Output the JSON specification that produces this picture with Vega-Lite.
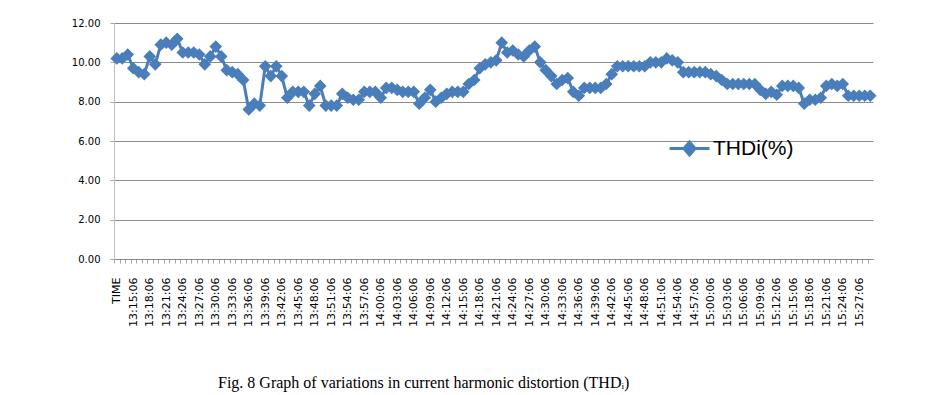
{
  "$schema": "https://vega.github.io/schema/vega-lite/v6.json",
  "width": 759,
  "height": 236,
  "autosize": {"type": "none"},
  "padding": {"left": 114, "top": 23, "right": 56, "bottom": 136},
  "background": "white",
  "title": {
    "text": "Fig. 8 Graph of variations in current harmonic distortion (THDᵢ)",
    "orient": "bottom",
    "anchor": "start",
    "frame": "group",
    "dx": 104,
    "offset": 49,
    "font": "Liberation Serif",
    "fontSize": 16,
    "fontWeight": "normal",
    "color": "black"
  },
  "config": {
    "view": {"stroke": null},
    "axis": {"labelColor": "black"}
  },
  "data": {
    "values": [
      {"t": "TIME", "v": 10.2},
      {"t": "13:13:06", "v": 10.2},
      {"t": "13:14:06", "v": 10.4},
      {"t": "13:15:06", "v": 9.7},
      {"t": "13:16:06", "v": 9.5},
      {"t": "13:17:06", "v": 9.4},
      {"t": "13:18:06", "v": 10.3},
      {"t": "13:19:06", "v": 9.9},
      {"t": "13:20:06", "v": 10.9},
      {"t": "13:21:06", "v": 11.0},
      {"t": "13:22:06", "v": 10.9},
      {"t": "13:23:06", "v": 11.2},
      {"t": "13:24:06", "v": 10.5},
      {"t": "13:25:06", "v": 10.5},
      {"t": "13:26:06", "v": 10.5},
      {"t": "13:27:06", "v": 10.4},
      {"t": "13:28:06", "v": 9.9},
      {"t": "13:29:06", "v": 10.3},
      {"t": "13:30:06", "v": 10.8},
      {"t": "13:31:06", "v": 10.3},
      {"t": "13:32:06", "v": 9.6},
      {"t": "13:33:06", "v": 9.5},
      {"t": "13:34:06", "v": 9.4},
      {"t": "13:35:06", "v": 9.1},
      {"t": "13:36:06", "v": 7.6},
      {"t": "13:37:06", "v": 7.9},
      {"t": "13:38:06", "v": 7.8},
      {"t": "13:39:06", "v": 9.8},
      {"t": "13:40:06", "v": 9.3},
      {"t": "13:41:06", "v": 9.8},
      {"t": "13:42:06", "v": 9.3},
      {"t": "13:43:06", "v": 8.2},
      {"t": "13:44:06", "v": 8.5},
      {"t": "13:45:06", "v": 8.5},
      {"t": "13:46:06", "v": 8.5},
      {"t": "13:47:06", "v": 7.8},
      {"t": "13:48:06", "v": 8.4},
      {"t": "13:49:06", "v": 8.8},
      {"t": "13:50:06", "v": 7.8},
      {"t": "13:51:06", "v": 7.8},
      {"t": "13:52:06", "v": 7.8},
      {"t": "13:53:06", "v": 8.4},
      {"t": "13:54:06", "v": 8.2},
      {"t": "13:55:06", "v": 8.1},
      {"t": "13:56:06", "v": 8.1},
      {"t": "13:57:06", "v": 8.5},
      {"t": "13:58:06", "v": 8.5},
      {"t": "13:59:06", "v": 8.5},
      {"t": "14:00:06", "v": 8.2},
      {"t": "14:01:06", "v": 8.7},
      {"t": "14:02:06", "v": 8.7},
      {"t": "14:03:06", "v": 8.6},
      {"t": "14:04:06", "v": 8.5},
      {"t": "14:05:06", "v": 8.5},
      {"t": "14:06:06", "v": 8.5},
      {"t": "14:07:06", "v": 7.9},
      {"t": "14:08:06", "v": 8.2},
      {"t": "14:09:06", "v": 8.6},
      {"t": "14:10:06", "v": 8.0},
      {"t": "14:11:06", "v": 8.2},
      {"t": "14:12:06", "v": 8.4},
      {"t": "14:13:06", "v": 8.5},
      {"t": "14:14:06", "v": 8.5},
      {"t": "14:15:06", "v": 8.5},
      {"t": "14:16:06", "v": 8.9},
      {"t": "14:17:06", "v": 9.1},
      {"t": "14:18:06", "v": 9.7},
      {"t": "14:19:06", "v": 9.9},
      {"t": "14:20:06", "v": 10.0},
      {"t": "14:21:06", "v": 10.1},
      {"t": "14:22:06", "v": 11.0},
      {"t": "14:23:06", "v": 10.5},
      {"t": "14:24:06", "v": 10.6},
      {"t": "14:25:06", "v": 10.4},
      {"t": "14:26:06", "v": 10.3},
      {"t": "14:27:06", "v": 10.6},
      {"t": "14:28:06", "v": 10.8},
      {"t": "14:29:06", "v": 10.0},
      {"t": "14:30:06", "v": 9.6},
      {"t": "14:31:06", "v": 9.3},
      {"t": "14:32:06", "v": 8.9},
      {"t": "14:33:06", "v": 9.1},
      {"t": "14:34:06", "v": 9.2},
      {"t": "14:35:06", "v": 8.5},
      {"t": "14:36:06", "v": 8.3},
      {"t": "14:37:06", "v": 8.7},
      {"t": "14:38:06", "v": 8.7},
      {"t": "14:39:06", "v": 8.7},
      {"t": "14:40:06", "v": 8.7},
      {"t": "14:41:06", "v": 8.9},
      {"t": "14:42:06", "v": 9.4},
      {"t": "14:43:06", "v": 9.8},
      {"t": "14:44:06", "v": 9.8},
      {"t": "14:45:06", "v": 9.8},
      {"t": "14:46:06", "v": 9.8},
      {"t": "14:47:06", "v": 9.8},
      {"t": "14:48:06", "v": 9.8},
      {"t": "14:49:06", "v": 10.0},
      {"t": "14:50:06", "v": 10.0},
      {"t": "14:51:06", "v": 10.0},
      {"t": "14:52:06", "v": 10.2},
      {"t": "14:53:06", "v": 10.1},
      {"t": "14:54:06", "v": 10.0},
      {"t": "14:55:06", "v": 9.5},
      {"t": "14:56:06", "v": 9.5},
      {"t": "14:57:06", "v": 9.5},
      {"t": "14:58:06", "v": 9.5},
      {"t": "14:59:06", "v": 9.5},
      {"t": "15:00:06", "v": 9.4},
      {"t": "15:01:06", "v": 9.3},
      {"t": "15:02:06", "v": 9.1},
      {"t": "15:03:06", "v": 8.9},
      {"t": "15:04:06", "v": 8.9},
      {"t": "15:05:06", "v": 8.9},
      {"t": "15:06:06", "v": 8.9},
      {"t": "15:07:06", "v": 8.9},
      {"t": "15:08:06", "v": 8.9},
      {"t": "15:09:06", "v": 8.6},
      {"t": "15:10:06", "v": 8.4},
      {"t": "15:11:06", "v": 8.5},
      {"t": "15:12:06", "v": 8.35},
      {"t": "15:13:06", "v": 8.8},
      {"t": "15:14:06", "v": 8.8},
      {"t": "15:15:06", "v": 8.8},
      {"t": "15:16:06", "v": 8.7},
      {"t": "15:17:06", "v": 7.9},
      {"t": "15:18:06", "v": 8.1},
      {"t": "15:19:06", "v": 8.1},
      {"t": "15:20:06", "v": 8.2},
      {"t": "15:21:06", "v": 8.8},
      {"t": "15:22:06", "v": 8.9},
      {"t": "15:23:06", "v": 8.8},
      {"t": "15:24:06", "v": 8.9},
      {"t": "15:25:06", "v": 8.3},
      {"t": "15:26:06", "v": 8.3},
      {"t": "15:27:06", "v": 8.3},
      {"t": "15:28:06", "v": 8.3},
      {"t": "15:29:06", "v": 8.3}
    ]
  },
  "encoding": {
    "x": {
      "field": "t",
      "type": "ordinal",
      "sort": null,
      "scale": {"type": "point", "padding": 0.5},
      "axis": {
        "title": null,
        "labelAngle": 270,
        "labelFont": "DejaVu Sans",
        "labelFontSize": 11,
        "labelPadding": 14,
        "labelOverlap": false,
        "labelExpr": "datum.label == 'TIME' || toNumber(substring(datum.label, 3, 5)) % 3 == 0 ? datum.label : ''",
        "tickSize": 4,
        "tickColor": "#a6a6a6",
        "tickOffset": -2.75,
        "labelOffset": 2.75,
        "domainColor": "#8c8c8c",
        "grid": false
      }
    },
    "y": {
      "field": "v",
      "type": "quantitative",
      "scale": {"domain": [0, 12], "nice": false},
      "axis": {
        "title": null,
        "values": [0, 2, 4, 6, 8, 10, 12],
        "format": ".2f",
        "labelFont": "DejaVu Sans",
        "labelFontSize": 10,
        "labelPadding": 10,
        "tickSize": 4,
        "tickColor": "#a6a6a6",
        "domainColor": "#bfbfbf",
        "gridColor": "#8c8c8c",
        "gridOpacity": 1
      }
    }
  },
  "layer": [
    {
      "mark": {"type": "line", "color": "#4a7ebb", "strokeWidth": 3}
    },
    {
      "mark": {"type": "point", "shape": "diamond", "filled": true, "size": 160, "opacity": 1},
      "encoding": {
        "color": {
          "datum": "THDi(%)",
          "type": "nominal",
          "scale": {"range": ["#4a7ebb"]},
          "legend": {
            "orient": "none",
            "legendX": 554,
            "legendY": 104,
            "title": null,
            "padding": 0,
            "symbolType": "M-1,0L1,0M-0.28,0L0,-0.32L0.28,0L0,0.32Z",
            "symbolSize": 1600,
            "symbolStrokeWidth": 3,
            "symbolFillColor": "#4a7ebb",
            "symbolStrokeColor": "#4a7ebb",
            "labelFont": "Liberation Sans",
            "labelFontSize": 21,
            "labelColor": "black",
            "labelOffset": 2,
            "encode": {
              "symbols": {"update": {"fill": {"value": "#4a7ebb"}, "stroke": {"value": "#4a7ebb"}, "strokeWidth": {"value": 3}, "opacity": {"value": 1}}}
            }
          }
        }
      }
    }
  ]
}
